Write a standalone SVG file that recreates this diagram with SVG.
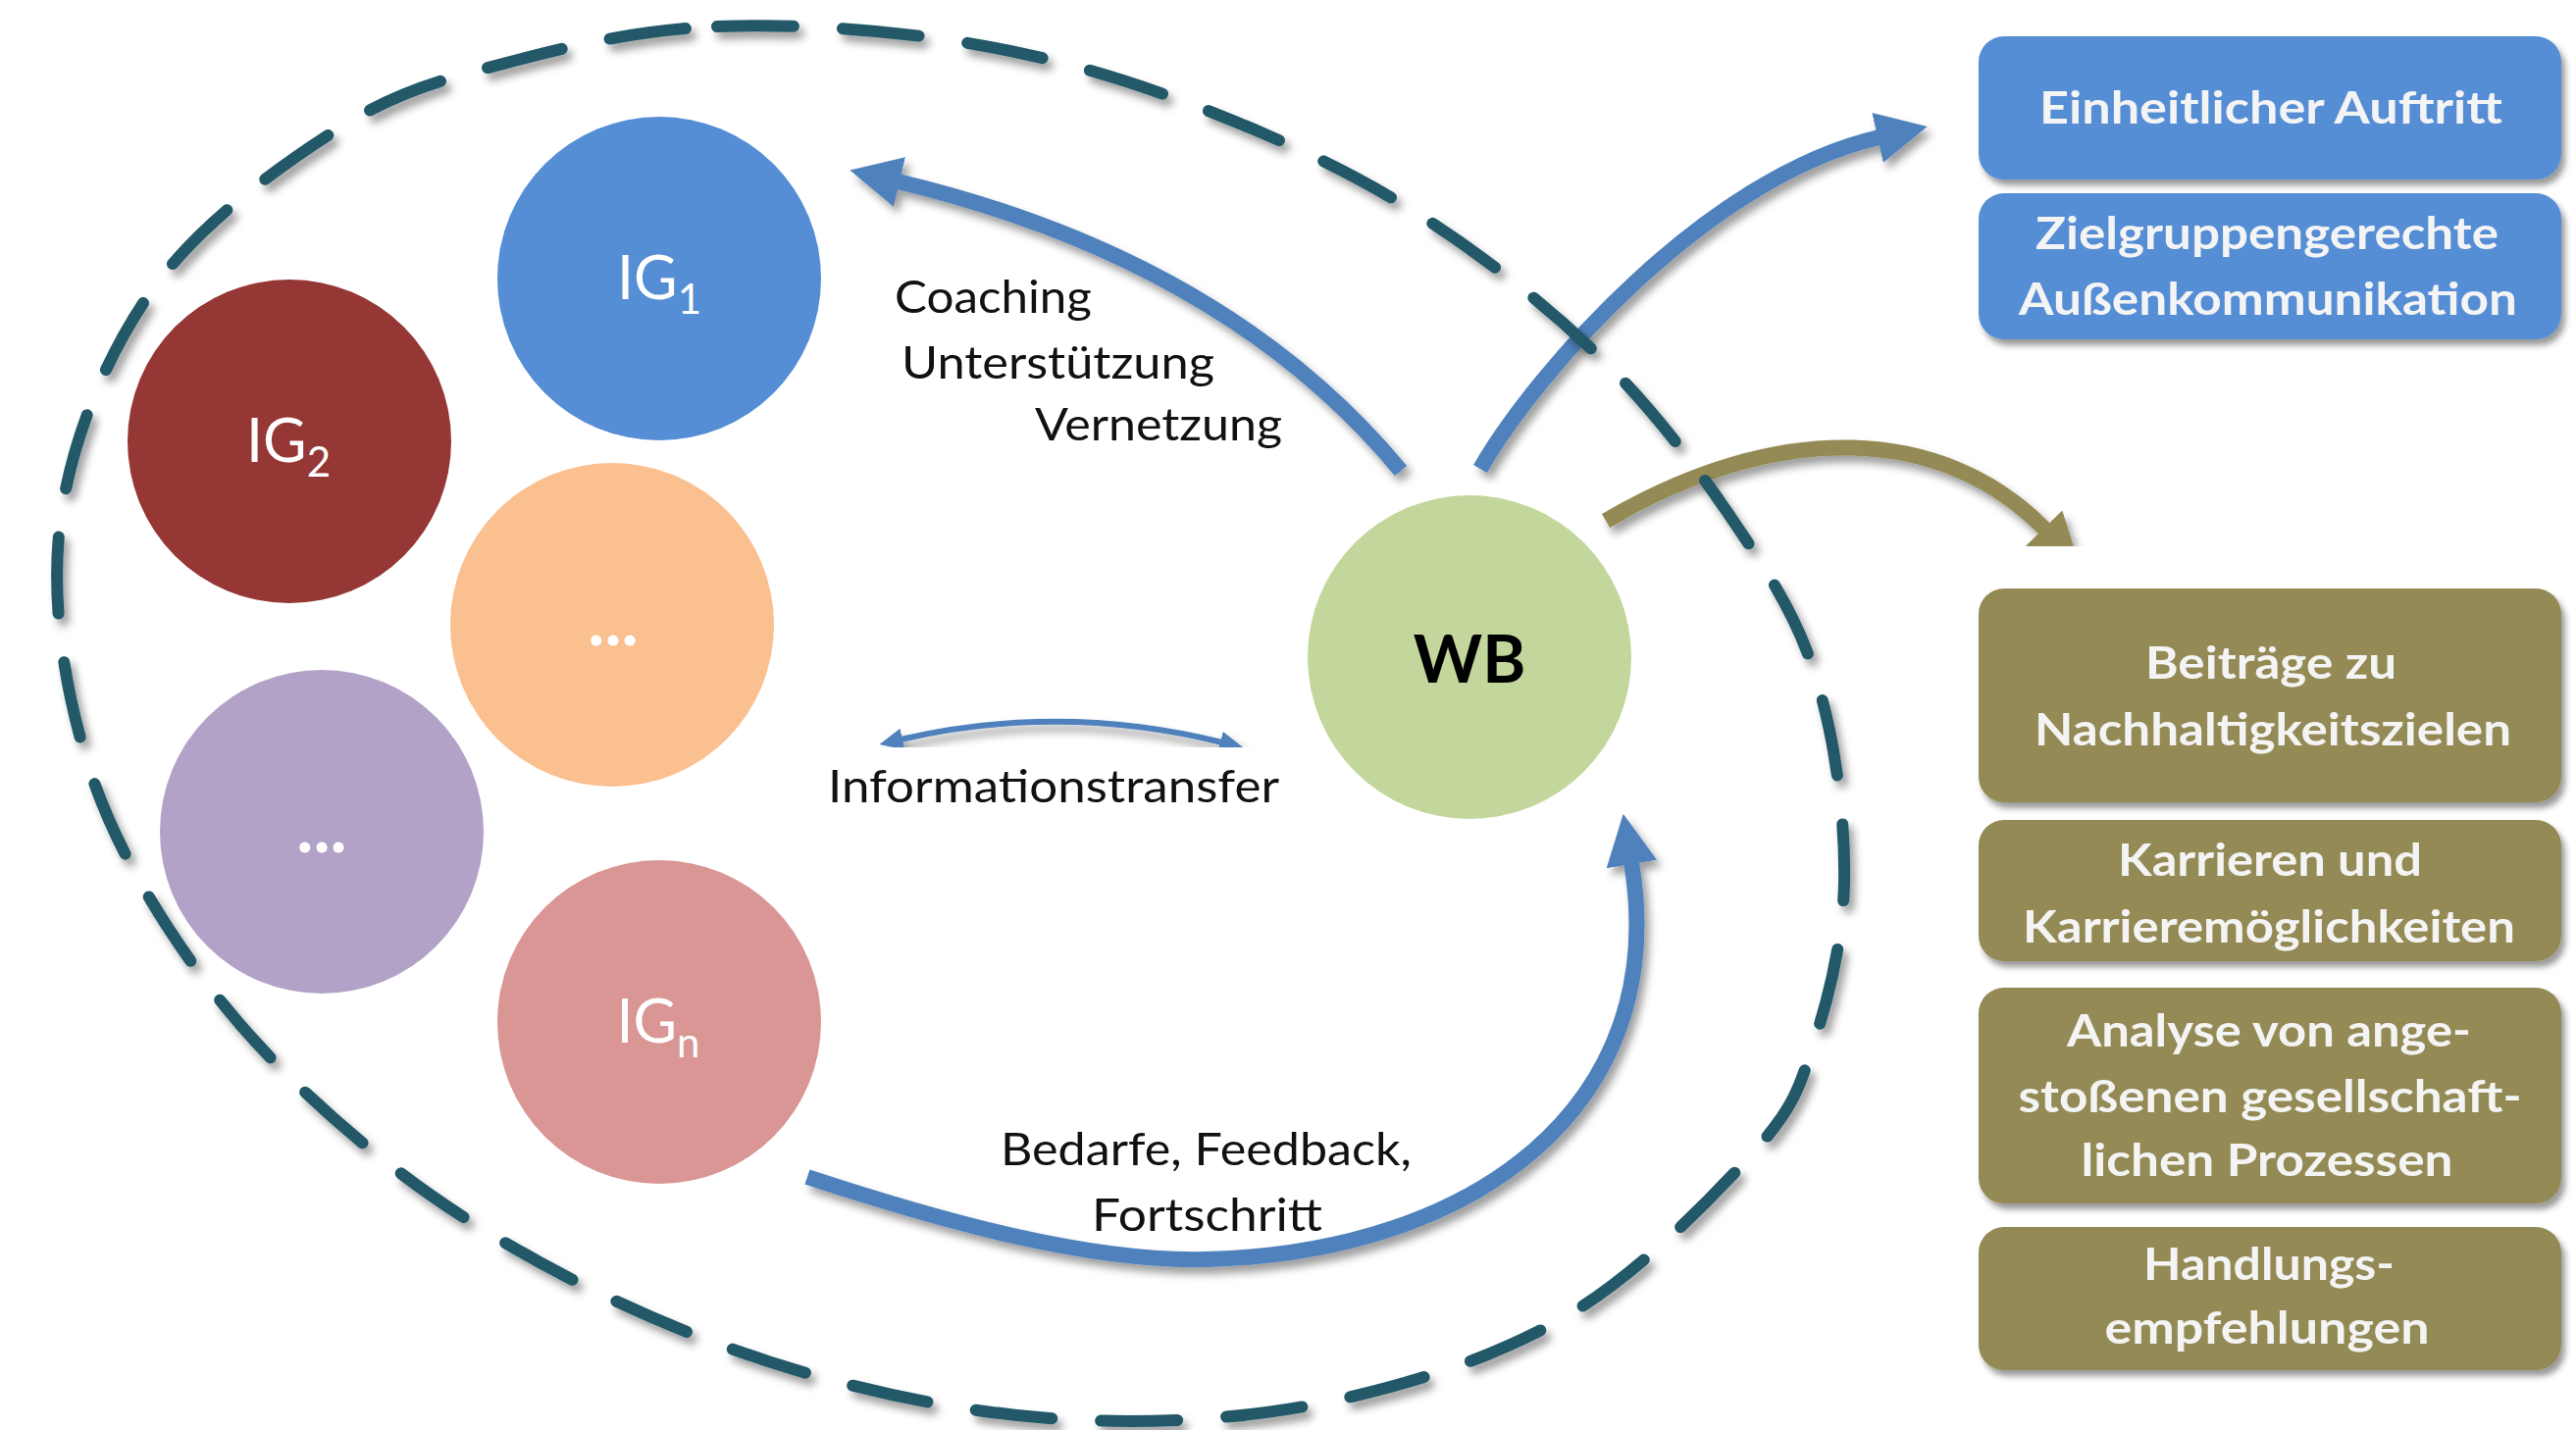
<svg xmlns="http://www.w3.org/2000/svg" width="2626" height="1458" viewBox="0 0 2626 1458">
<defs>
<style>
.lbl{font-family:Lato,"Liberation Sans",sans-serif;font-size:47px;fill:#111}
.ig{font-family:Lato,"Liberation Sans",sans-serif;font-size:61px;fill:#fff;text-anchor:middle}
.sub{font-size:42px}
.dots{font-family:Lato,"Liberation Sans",sans-serif;font-size:72px;font-weight:bold;fill:#fff;text-anchor:middle}
.bx{font-family:Lato,"Liberation Sans",sans-serif;font-size:46px;font-weight:bold;fill:#f4f4f4;text-anchor:middle}
.blue{fill:#558ed5}
.olive{fill:#948a54}
.arr{fill:none;stroke-width:16;stroke-linecap:butt}
.ab{stroke:#4f81bd}
.ao{stroke:#948a54}
</style>
<filter id="sh" x="-20%" y="-20%" width="140%" height="140%">
<feDropShadow dx="5" dy="7" stdDeviation="4" flood-color="#000" flood-opacity="0.38"/>
</filter>
<filter id="shb" x="-10%" y="-10%" width="120%" height="120%">
<feDropShadow dx="4" dy="6" stdDeviation="3" flood-color="#000" flood-opacity="0.4"/>
</filter>
<marker id="hb" markerUnits="userSpaceOnUse" viewBox="0 0 52 52" markerWidth="52" markerHeight="52" refX="2" refY="26" orient="auto">
<path d="M0,0 L52,26 L0,52 Z" fill="#4f81bd"/>
</marker>
<marker id="ho" markerUnits="userSpaceOnUse" viewBox="0 0 52 52" markerWidth="52" markerHeight="52" refX="2" refY="26" orient="auto">
<path d="M0,0 L52,26 L0,52 Z" fill="#948a54"/>
</marker>
<marker id="hs" markerUnits="userSpaceOnUse" viewBox="0 0 24 22" markerWidth="24" markerHeight="22" refX="2" refY="11" orient="auto-start-reverse">
<path d="M0,0 L24,11 L0,22 Z" fill="#4f81bd"/>
</marker>
</defs>
<rect width="2626" height="1458" fill="#fff"/>

<g id="IG1"><circle cx="672" cy="284" r="165" fill="#558ed5"/><text class="ig" x="672" y="305">IG<tspan class="sub" dy="15">1</tspan></text></g>
<g id="IG2"><circle cx="295" cy="450" r="165" fill="#953735"/><text class="ig" x="294" y="471">IG<tspan class="sub" dy="15">2</tspan></text></g>
<g id="IG3"><circle cx="624" cy="637" r="165" fill="#fac090"/><text class="dots" x="625" y="658">...</text></g>
<g id="IG4"><circle cx="328" cy="848" r="165" fill="#b3a2c7"/><text class="dots" x="328" y="869">...</text></g>
<g id="IGn"><circle cx="672" cy="1042" r="165" fill="#d99694"/><text class="ig" x="671" y="1063">IG<tspan class="sub" dy="15">n</tspan></text></g>
<g id="WB"><circle cx="1498" cy="670" r="165" fill="#c3d69b"/><text x="1498" y="696" text-anchor="middle" style="font-family:Lato,'Liberation Sans',sans-serif;font-size:67px;font-weight:bold;fill:#000">WB</text></g>

<g id="box1" filter="url(#shb)"><rect class="blue" x="2017" y="37" width="594" height="146" rx="26"/><text class="bx" x="2315" y="126" textLength="472" lengthAdjust="spacingAndGlyphs">Einheitlicher Auftritt</text></g>
<g id="box2" filter="url(#shb)"><rect class="blue" x="2017" y="197" width="594" height="149" rx="26"/><text class="bx" x="2311" y="254" textLength="472" lengthAdjust="spacingAndGlyphs">Zielgruppengerechte</text><text class="bx" x="2312" y="321" textLength="508" lengthAdjust="spacingAndGlyphs">Außenkommunikation</text></g>
<g id="box3" filter="url(#shb)"><rect class="olive" x="2017" y="600" width="594" height="218" rx="26"/><text class="bx" x="2315" y="692" textLength="256" lengthAdjust="spacingAndGlyphs">Beiträge zu</text><text class="bx" x="2317" y="760" textLength="486" lengthAdjust="spacingAndGlyphs">Nachhaltigkeitszielen</text></g>
<g id="box4" filter="url(#shb)"><rect class="olive" x="2017" y="836" width="594" height="144" rx="26"/><text class="bx" x="2314" y="893" textLength="310" lengthAdjust="spacingAndGlyphs">Karrieren und</text><text class="bx" x="2313" y="961" textLength="502" lengthAdjust="spacingAndGlyphs">Karrieremöglichkeiten</text></g>
<g id="box5" filter="url(#shb)"><rect class="olive" x="2017" y="1007" width="594" height="220" rx="26"/><text class="bx" x="2313" y="1067" textLength="412" lengthAdjust="spacingAndGlyphs">Analyse von ange-</text><text class="bx" x="2314" y="1134" textLength="513" lengthAdjust="spacingAndGlyphs">stoßenen gesellschaft-</text><text class="bx" x="2311" y="1199" textLength="379" lengthAdjust="spacingAndGlyphs">lichen Prozessen</text></g>
<g id="box6" filter="url(#shb)"><rect class="olive" x="2017" y="1251" width="594" height="146" rx="26"/><text class="bx" x="2313" y="1305" textLength="256" lengthAdjust="spacingAndGlyphs">Handlungs-</text><text class="bx" x="2311" y="1370" textLength="331" lengthAdjust="spacingAndGlyphs">empfehlungen</text></g>

<g id="connectors">
<path class="arr ab" filter="url(#sh)" marker-end="url(#hb)" d="M1428,480 Q1250,265 915,185"/>
<path class="arr ab" filter="url(#sh)" marker-end="url(#hb)" d="M1509,478 C1565,380 1740,180 1916,140"/>
<path class="arr ao" filter="url(#sh)" marker-end="url(#ho)" d="M1637,531 C1813,427 1981.5,433.5 2085,540"/>
<path class="arr ab" filter="url(#sh)" marker-end="url(#hb)" d="M823,1200 C960,1245 1110,1287 1230,1284 C1500,1277 1705,1130 1663,879"/>
<path fill="none" stroke="#4f81bd" stroke-width="6" filter="url(#sh)" marker-start="url(#hs)" marker-end="url(#hs)" d="M918,754 Q1082,716 1246,757"/>
</g>

<g id="labels">
<text class="lbl" x="912" y="319" textLength="201" lengthAdjust="spacingAndGlyphs">Coaching</text>
<text class="lbl" x="919" y="386" textLength="319" lengthAdjust="spacingAndGlyphs">Unterstützung</text>
<text class="lbl" x="1055" y="449" textLength="252" lengthAdjust="spacingAndGlyphs">Vernetzung</text>
<text class="lbl" x="844" y="818" textLength="460" lengthAdjust="spacingAndGlyphs">Informationstransfer</text>
<text class="lbl" x="1020" y="1188" textLength="419" lengthAdjust="spacingAndGlyphs">Bedarfe, Feedback,</text>
<text class="lbl" x="1113" y="1255" textLength="235" lengthAdjust="spacingAndGlyphs">Fortschritt</text>
</g>

<g id="boundary">
<path fill="none" stroke="#215968" stroke-width="12" stroke-linecap="round" stroke-dasharray="78 50" filter="url(#sh)" d="M731,27 C805.5,23.8 896.8,29.7 975,42 C1053.2,54.3 1123.5,72.8 1200,101 C1276.5,129.2 1360.7,165.7 1434,211 C1507.3,256.3 1580.3,313.3 1640,373 C1699.7,432.7 1755.7,512 1792,569 C1828.3,626 1843.3,659.8 1858,715 C1872.7,770.2 1881.3,842.5 1880,900 C1878.7,957.5 1865,1014.7 1850,1060 C1835,1105.3 1831.7,1125.3 1790,1172 C1748.3,1218.7 1671.7,1297.3 1600,1340 C1528.3,1382.7 1442.7,1410 1360,1428 C1277.3,1446 1188.8,1451.3 1104,1448 C1019.2,1444.7 933.3,1429.7 851,1408 C768.7,1386.3 686.2,1355.2 610,1318 C533.8,1280.8 460.3,1237.3 394,1185 C327.7,1132.7 262.7,1071.5 212,1004 C161.3,936.5 115,859.3 90,780 C65,700.7 50.8,609.2 62,528 C73.2,446.8 109,359.7 157,293 C205,226.3 288.2,166.7 350,128 C411.8,89.3 464.5,77.8 528,61 C591.5,44.2 656.5,30.2 731,27 Z"/>
</g>
</svg>
